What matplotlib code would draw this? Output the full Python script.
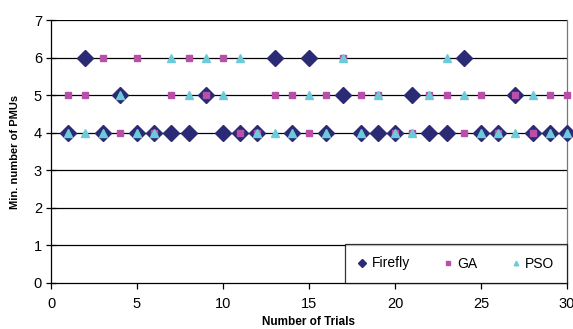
import numpy as np
import matplotlib
matplotlib.use("Agg")
import matplotlib.pyplot as plt

plt.rcParams['font.family'] = ['Liberation Sans', 'DejaVu Sans']

trials = list(range(1, 31))
firefly = [4, 6, 4, 5, 4, 4, 4, 4, 5, 4, 4, 4, 6, 4, 6,
           4, 5, 4, 4, 4, 5, 4, 4, 6, 4, 4, 5, 4, 4, 4]
ga = [5, 5, 6, 4, 6, 4, 5, 6, 5, 6, 4, 4, 5, 5, 4,
      5, 6, 5, 5, 4, 4, 5, 5, 4, 5, 4, 5, 4, 5, 5]
pso = [4, 4, 4, 5, 4, 4, 6, 5, 6, 5, 6, 4, 4, 4, 5,
       4, 6, 4, 5, 4, 4, 5, 6, 5, 4, 4, 4, 5, 4, 4]

fig = plt.figure(figsize=(5.73, 3.29), dpi=100)
ax = fig.add_axes([51 / 573, 1 - 283 / 329, 516 / 573, 263 / 329])

for yv in range(1, 8):
    ax.axhline(yv, color='black', lw=0.9, zorder=1)

ax.plot(trials, firefly, ls='none', marker='D', ms=8.2, color='#2a2a75',
        label='Firefly', zorder=3, clip_on=False)
ax.plot(trials, ga, ls='none', marker='s', ms=5, color='#b84fa8',
        label='GA', zorder=4, clip_on=False)
ax.plot(trials, pso, ls='none', marker='^', ms=6, color='#6dcbd9',
        label='PSO', zorder=5, clip_on=False)

ax.set_xlim(0, 30)
ax.set_ylim(0, 7)
ax.set_xticks(range(0, 31, 5))
ax.set_yticks(range(0, 8))
ax.tick_params(axis='x', direction='out', length=4, width=0.9, labelsize=10.5, pad=6)
ax.tick_params(axis='y', direction='inout', length=7, width=0.9, labelsize=10.5, pad=3)

ax.spines['top'].set_visible(False)
ax.spines['right'].set_color('#777777')
ax.spines['left'].set_color('black')
ax.spines['bottom'].set_color('black')
for s in ax.spines.values():
    s.set_linewidth(0.9)

ax.set_xlabel('Number of Trials', fontsize=8.5, fontweight='bold', labelpad=4)
ax.set_ylabel('Min. number of PMUs', fontsize=8, fontweight='bold', labelpad=10)

leg = ax.legend(loc='lower left', bbox_to_anchor=(0.57, 0, 0.43, 1 / 7),
                mode='expand', ncol=3, borderaxespad=0, frameon=True,
                fancybox=False, fontsize=10, markerscale=0.55,
                handlelength=0.7, handletextpad=0.3, borderpad=0.9,
                columnspacing=1.5)
leg.get_frame().set_edgecolor('black')
leg.get_frame().set_linewidth(0.9)
leg.set_zorder(6)

plt.savefig('out.png', dpi=100)
